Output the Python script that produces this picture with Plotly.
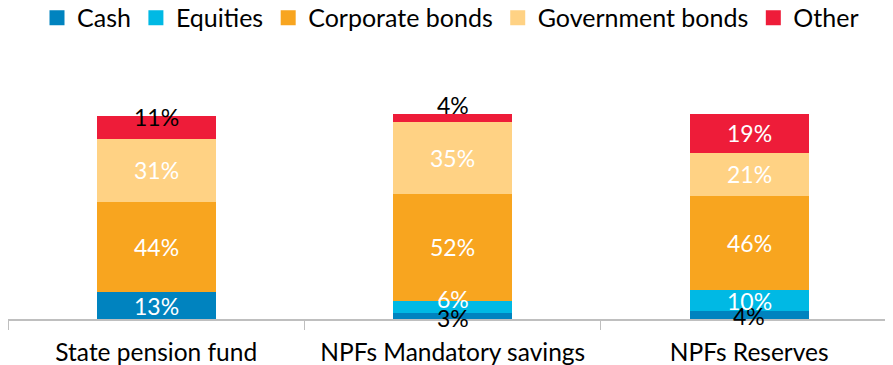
import plotly.graph_objects as go
import numpy as np

categories = ["State pension fund", "NPFs Mandatory savings", "NPFs Reserves"]

cash = [13, 3, 4]
equities = [0, 6, 10]
corporate = [44, 52, 46]
government = [31, 35, 21]
other = [11, 4, 19]

SERIES = [
    ("Cash", cash, "#0083BF"),
    ("Equities", equities, "#00B9E4"),
    ("Corporate bonds", corporate, "#F8A51F"),
    ("Government bonds", government, "#FFD284"),
    ("Other", other, "#EE1C39"),
]

# label tweaks for the small / odd segments: (series, category index) -> (colour, pixel shift)
LABEL_TWEAKS = {
    ("Other", 0): ("#000000", 10),
    ("Other", 1): ("#000000", 13),
    ("Cash", 1): ("#000000", -2),
    ("Cash", 2): ("#000000", -1),
    ("Equities", 1): ("#FFFFFF", 8),
}

FONT = "Lato"

fig = go.Figure()
base = np.zeros(len(categories))
annotations = []
for name, vals, color in SERIES:
    fig.add_trace(go.Bar(
        x=categories,
        y=vals,
        name=name,
        marker=dict(color=color, line=dict(width=0)),
        hoverinfo="skip",
        showlegend=False,
    ))
    # square legend swatch
    fig.add_trace(go.Scatter(
        x=[None], y=[None], mode="markers", name=name,
        marker=dict(symbol="square", size=15, color=color),
    ))
    for i, v in enumerate(vals):
        if v <= 0:
            continue
        col, shift = LABEL_TWEAKS.get((name, i), ("#FFFFFF", 0))
        annotations.append(dict(
            x=categories[i], y=base[i] + v / 2, xref="x", yref="y",
            text=f"{v}%", showarrow=False, yshift=shift,
            font=dict(family=FONT, size=23, color=col),
        ))
    base += np.array(vals)

# page body has an 8px margin, so the figure is sized to fit the window
fig.update_layout(
    barmode="stack",
    bargap=0.6,
    width=885,
    height=357,
    margin=dict(l=0, r=0, t=52, b=46, autoexpand=False),
    paper_bgcolor="white",
    plot_bgcolor="white",
    font=dict(family=FONT, size=24, color="#000000"),
    annotations=annotations,
    legend=dict(
        orientation="h",
        x=0.5, xanchor="center",
        yref="container", y=0.972, yanchor="middle",
        font=dict(family=FONT, size=25),
        itemclick=False,
        traceorder="normal",
        itemsizing="trace",
    ),
    showlegend=True,
)
fig.update_xaxes(
    range=[-0.5, 2.485],
    showline=True, linecolor="#BFBFBF", linewidth=1.5,
    ticks="outside", tickson="boundaries", ticklen=9, tickcolor="#BFBFBF",
    ticklabelstandoff=11,
    showgrid=False, zeroline=False, automargin=False,
    tickfont=dict(family=FONT, size=24.5),
)
fig.update_yaxes(range=[0, 126.3], visible=False, automargin=False)

fig.write_html("out.html")
